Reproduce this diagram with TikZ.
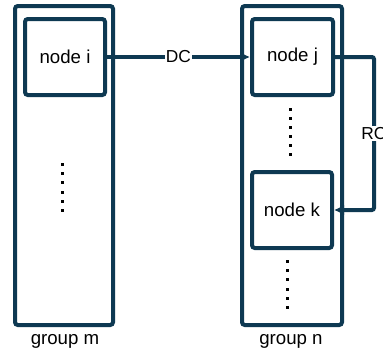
\documentclass[tikz,border=0pt]{standalone}
\usepackage{fontspec}
\setmainfont{Liberation Sans}
\usetikzlibrary{arrows.meta}
\definecolor{groupblue}{HTML}{0E3952}
\tikzset{
  group/.style={draw=groupblue,line width=3pt,rounded corners=0.4ex,inner sep=0pt,
    minimum width=98*0.75pt,minimum height=319*0.75pt},
  member/.style={draw=groupblue,line width=3pt,rounded corners=0.4ex,inner sep=0pt,
    minimum width=80*0.75pt,minimum height=76*0.75pt,font=\fontsize{14}{16}\selectfont},
  link/.style={draw=groupblue,line width=3pt,-{Latex[length=7.5pt,width=8pt]}},
  linklabel/.style={fill=white,inner sep=1pt,font=\fontsize{13}{15}\selectfont,text=black}
}
\begin{document}
\begin{tikzpicture}[x=0.75pt,y=-0.75pt]
\useasboundingbox (0,0) rectangle (383,354);
% groups
\node[group] (groupm) at (64,165.5) {};
\node[group,minimum width=100*0.75pt] (groupn) at (292,165.5) {};
\node[font=\fontsize{14}{16}\selectfont] at (65,341) {group m};
\node[font=\fontsize{14}{16}\selectfont] at (291,341) {group n};
% members
\node[member] (nodei) at (65,57) {node i};
\node[member,minimum width=81*0.75pt] (nodej) at (292.5,57) {node j};
\node[member] (nodek) at (292,210) {node k};
% dots
\foreach \y in {0,...,5}
{
  \fill (60.5,166+9.2*\y) rectangle ++(3,-3);
  \fill (288.5,111+9*\y) rectangle ++(3,-3);
  \fill (285.5,263+9.2*\y) rectangle ++(3,-3);
}
% links
\draw[link] (nodei.east) -- node[linklabel] {DC} (nodej.west);
\draw[link,rounded corners=0.3ex] (nodej.east) -- ++(39,0) |- node[linklabel,pos=0.25] {RC} (nodek.east);
\end{tikzpicture}
\end{document}
